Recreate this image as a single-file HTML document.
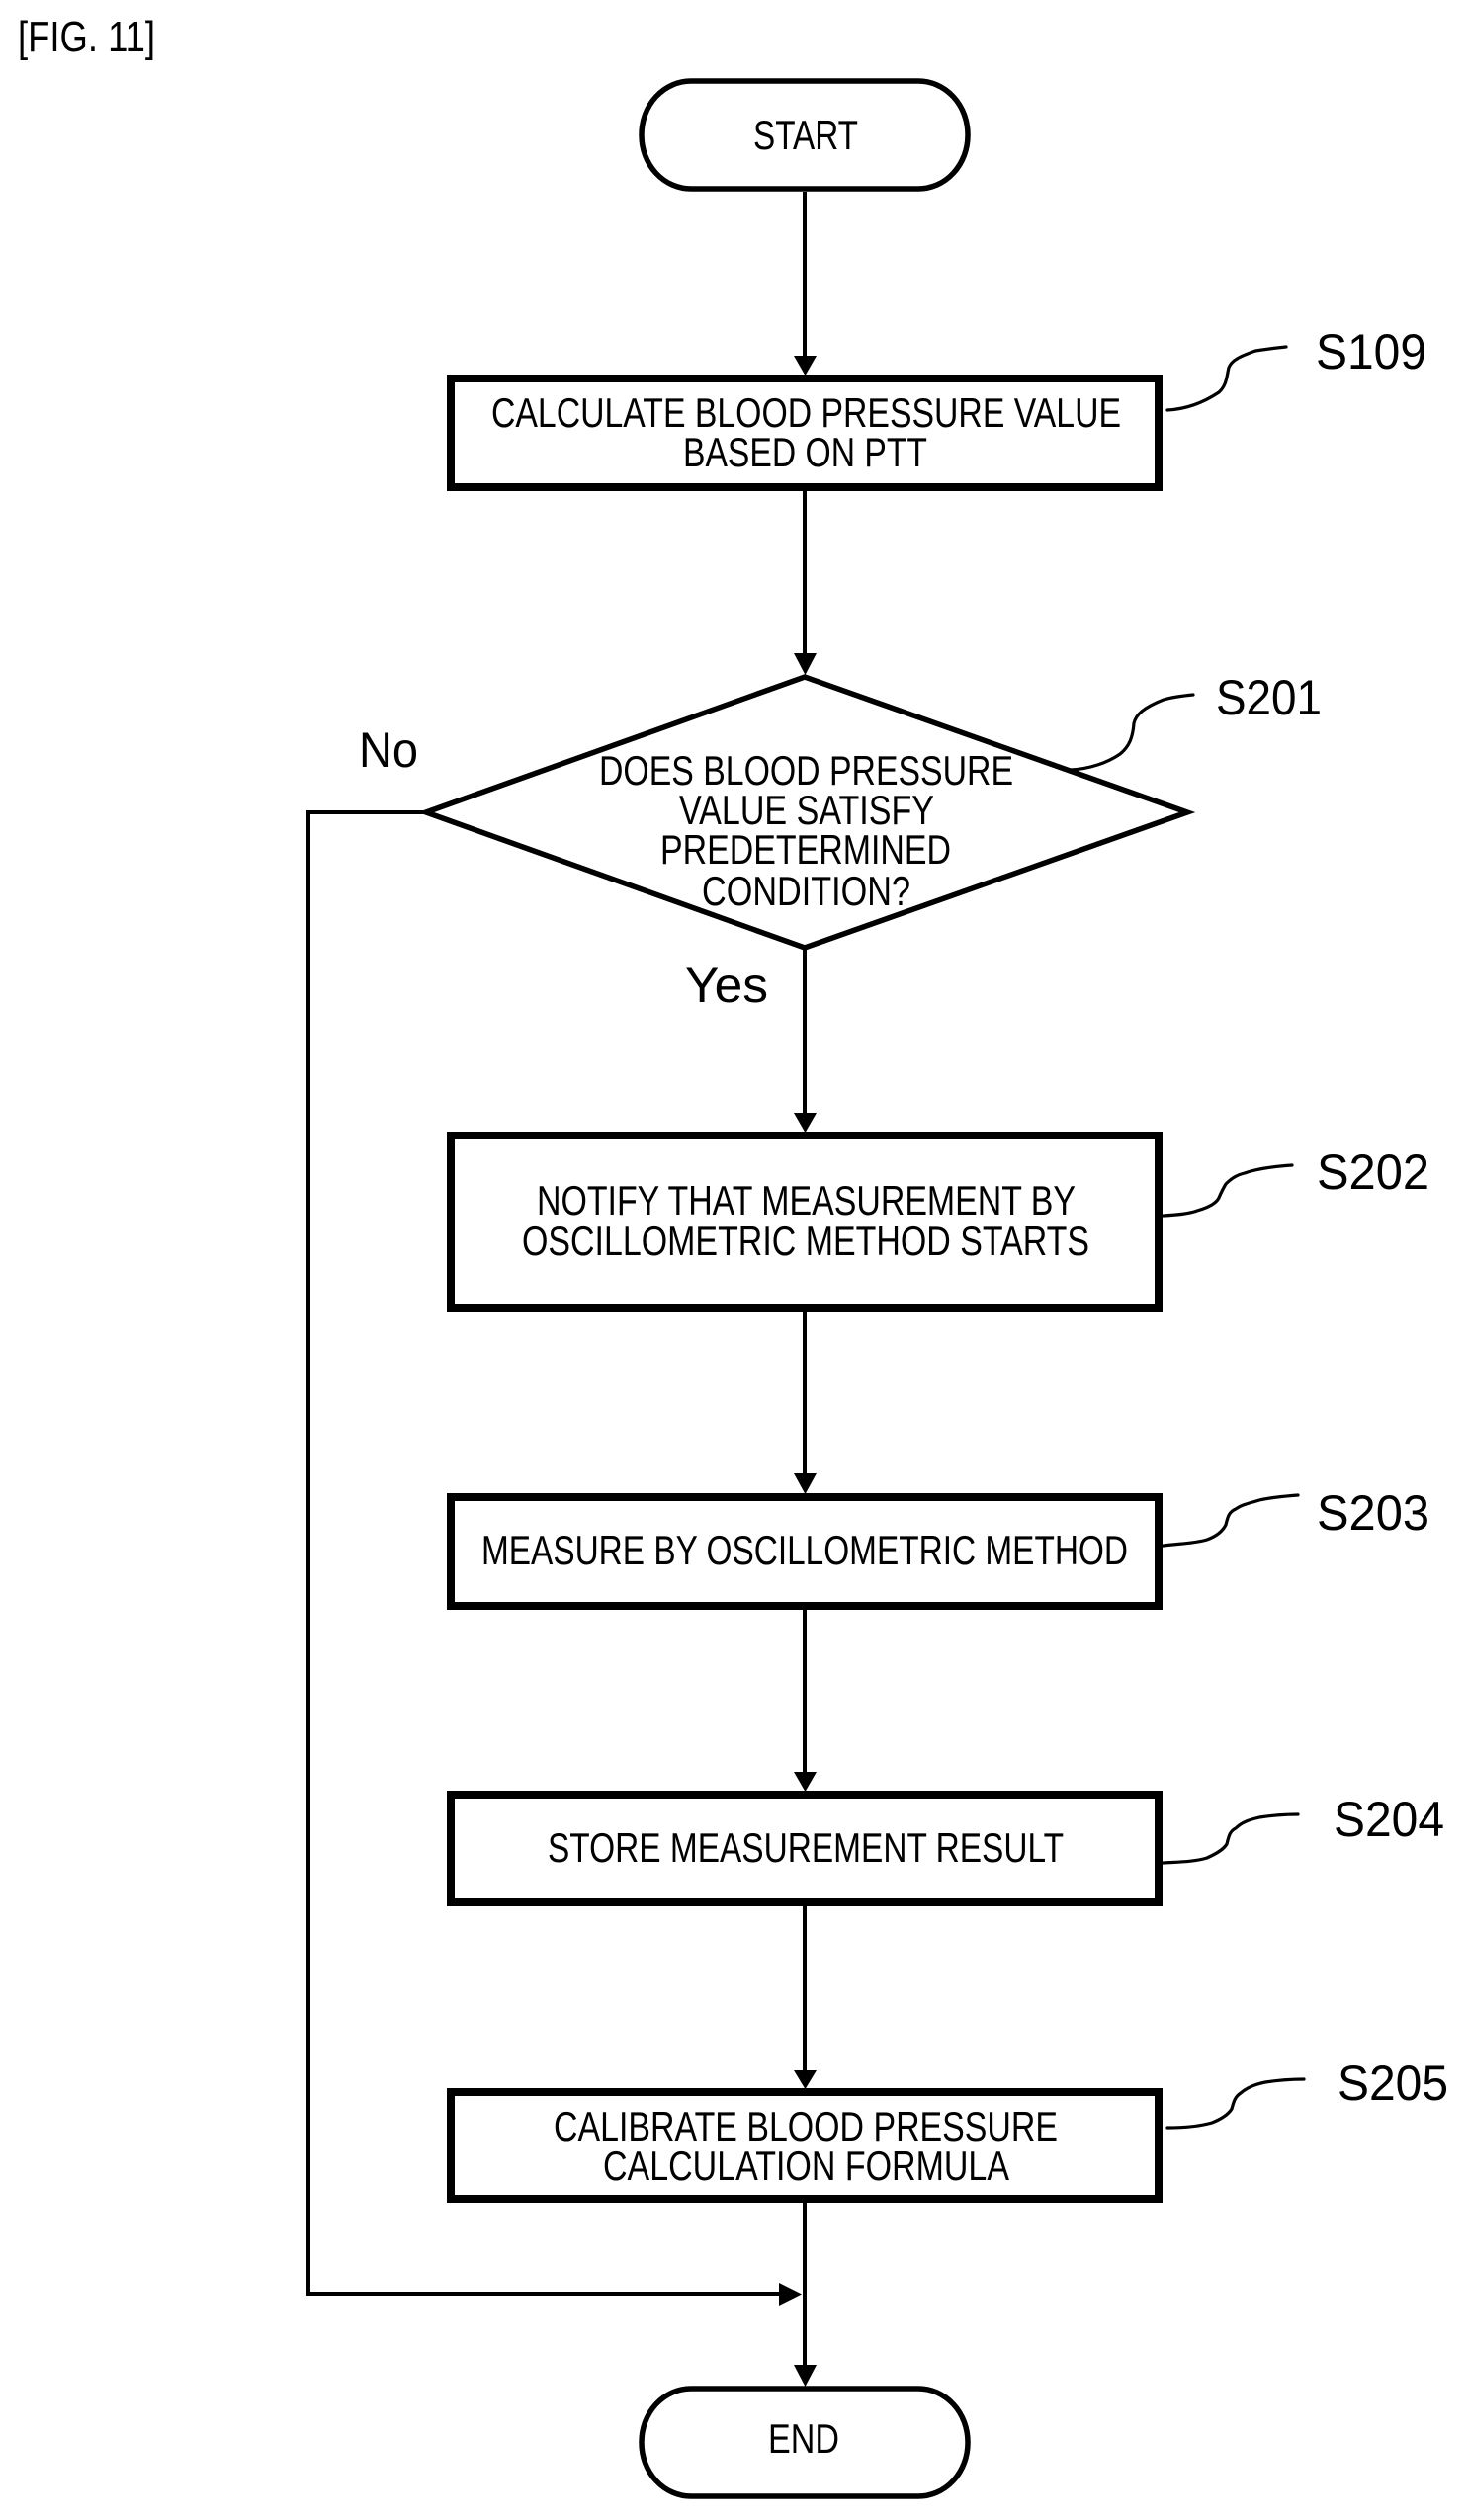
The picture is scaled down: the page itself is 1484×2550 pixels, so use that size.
<!DOCTYPE html>
<html>
<head>
<meta charset="utf-8">
<style>
html,body{margin:0;padding:0;background:#fff;width:1484px;height:2550px;overflow:hidden}
svg{display:block}
text{font-family:"Liberation Sans",Arial,sans-serif;fill:#000;font-size:42px}
.l{font-size:50px}
.box{fill:#fff;stroke:#000;stroke-width:8}
.term{fill:#fff;stroke:#000;stroke-width:5.5}
.ln{fill:none;stroke:#000;stroke-width:4}
.ld{fill:none;stroke:#000;stroke-width:3.2;stroke-linejoin:round;stroke-linecap:round}
</style>
</head>
<body>
<svg width="1484" height="2550" viewBox="0 0 1484 2550" xmlns="http://www.w3.org/2000/svg">
<rect width="1484" height="2550" fill="#fff"/>

<text x="18" y="52" font-size="44" style="font-size:44px" textLength="139" lengthAdjust="spacingAndGlyphs">[FIG. 11]</text>

<!-- connectors -->
<path class="ln" d="M814 194V362M814 497V664M814 958V1128M814 1328V1493M814 1629V1795M814 1929V2097M814 2229V2396"/>
<path class="ln" d="M428 822H312V2321H790"/>

<!-- arrowheads -->
<g fill="#000">
<polygon points="803,360 826,360 814.5,380"/>
<polygon points="803,661 826,661 814.5,683"/>
<polygon points="803,1126 826,1126 814.5,1146"/>
<polygon points="803,1491 826,1491 814.5,1512"/>
<polygon points="803,1793 826,1793 814.5,1813"/>
<polygon points="803,2095 826,2095 814.5,2114"/>
<polygon points="803,2393 826,2393 814.5,2415"/>
<polygon points="788,2310 811,2321.5 788,2333"/>
</g>

<!-- terminals -->
<rect class="term" x="649" y="82" width="330" height="109" rx="50" ry="54"/>
<rect class="term" x="649" y="2417" width="330" height="109" rx="50" ry="54"/>

<!-- process boxes -->
<rect class="box" x="456" y="383" width="716" height="110"/>
<rect class="box" x="456" y="1149" width="716" height="175"/>
<rect class="box" x="456" y="1515" width="716" height="110"/>
<rect class="box" x="456" y="1816" width="716" height="109"/>
<rect class="box" x="456" y="2117" width="716" height="108"/>

<!-- decision -->
<polygon points="431,822 814,685 1201,822 814,959" fill="#fff" stroke="#000" stroke-width="5.5" stroke-miterlimit="10"/>

<!-- node labels -->
<text x="762" y="151" textLength="106" lengthAdjust="spacingAndGlyphs">START</text>
<text x="497" y="432" textLength="637" lengthAdjust="spacingAndGlyphs">CALCULATE BLOOD PRESSURE VALUE</text>
<text x="691" y="472" textLength="247" lengthAdjust="spacingAndGlyphs">BASED ON PTT</text>

<text x="606" y="794" textLength="419" lengthAdjust="spacingAndGlyphs">DOES BLOOD PRESSURE</text>
<text x="687" y="834" textLength="258" lengthAdjust="spacingAndGlyphs">VALUE SATISFY</text>
<text x="668" y="874" textLength="294" lengthAdjust="spacingAndGlyphs">PREDETERMINED</text>
<text x="710" y="916" textLength="211" lengthAdjust="spacingAndGlyphs">CONDITION?</text>

<text x="543" y="1229" textLength="545" lengthAdjust="spacingAndGlyphs">NOTIFY THAT MEASUREMENT BY</text>
<text x="528" y="1270" textLength="574" lengthAdjust="spacingAndGlyphs">OSCILLOMETRIC METHOD STARTS</text>
<text x="487" y="1583" textLength="654" lengthAdjust="spacingAndGlyphs">MEASURE BY OSCILLOMETRIC METHOD</text>
<text x="554" y="1884" textLength="522" lengthAdjust="spacingAndGlyphs">STORE MEASUREMENT RESULT</text>
<text x="560" y="2166" textLength="510" lengthAdjust="spacingAndGlyphs">CALIBRATE BLOOD PRESSURE</text>
<text x="610" y="2206" textLength="411" lengthAdjust="spacingAndGlyphs">CALCULATION FORMULA</text>
<text x="777" y="2482" textLength="72" lengthAdjust="spacingAndGlyphs">END</text>

<!-- branch labels -->
<text class="l" x="363" y="776" textLength="60" lengthAdjust="spacingAndGlyphs">No</text>
<text class="l" x="693" y="1014" textLength="84" lengthAdjust="spacingAndGlyphs">Yes</text>

<!-- step labels -->
<text class="l" x="1331" y="373" textLength="112" lengthAdjust="spacingAndGlyphs">S109</text>
<text class="l" x="1230" y="723" textLength="107" lengthAdjust="spacingAndGlyphs">S201</text>
<text class="l" x="1332" y="1203" textLength="114" lengthAdjust="spacingAndGlyphs">S202</text>
<text class="l" x="1332" y="1548" textLength="114" lengthAdjust="spacingAndGlyphs">S203</text>
<text class="l" x="1349" y="1858" textLength="112" lengthAdjust="spacingAndGlyphs">S204</text>
<text class="l" x="1353" y="2125" textLength="112" lengthAdjust="spacingAndGlyphs">S205</text>

<!-- leaders -->
<path class="ld" d="M1181 415C1200 414 1218 407 1233 397C1241 390 1241 380 1243 372C1246 364 1256 360 1270 355C1282 353 1292 352 1301 351"/>
<path class="ld" d="M1083 779C1102 778 1120 772 1133 763C1143 755 1146 745 1147 732C1149 723 1157 716 1177 708C1187 705 1197 704 1207 703"/>
<path class="ld" d="M1177 1230C1192 1229 1203 1228 1211 1225C1225 1221 1231 1216 1233 1212C1236 1205 1237 1203 1240 1198C1246 1192 1251 1189 1259 1187C1273 1182 1292 1180 1307 1179"/>
<path class="ld" d="M1177 1564C1190 1562 1208 1562 1221 1558C1232 1554 1237 1549 1240 1543C1242 1535 1243 1530 1250 1527C1257 1522 1265 1521 1274 1518C1287 1515 1300 1514 1313 1513"/>
<path class="ld" d="M1177 1885C1192 1884 1208 1884 1221 1880C1232 1875 1238 1871 1241 1866C1243 1858 1244 1853 1250 1850C1257 1843 1266 1841 1274 1839C1287 1837 1300 1836 1313 1836"/>
<path class="ld" d="M1181 2153C1195 2153 1212 2152 1226 2148C1236 2144 1243 2139 1246 2134C1248 2127 1249 2122 1255 2118C1262 2112 1270 2109 1280 2107C1293 2105 1306 2104 1319 2104"/>
</svg>
</body>
</html>
